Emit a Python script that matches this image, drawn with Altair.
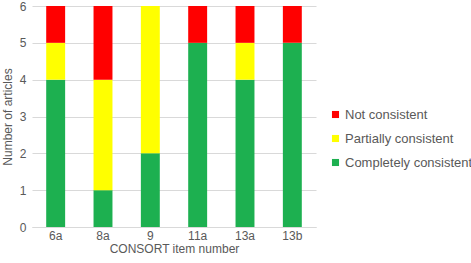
import altair as alt
import pandas as pd

items = ["6a", "8a", "9", "11a", "13a", "13b"]
completely = [4, 1, 2, 5, 4, 5]
partially = [1, 3, 4, 0, 1, 0]
not_cons = [1, 2, 0, 1, 1, 1]

series = ["Not consistent", "Partially consistent", "Completely consistent"]
colors = ["#FF0000", "#FFFF00", "#1DB050"]
stack_rank = {"Completely consistent": 0, "Partially consistent": 1, "Not consistent": 2}

rows = []
for i, item in enumerate(items):
    for name, vals in [("Completely consistent", completely),
                       ("Partially consistent", partially),
                       ("Not consistent", not_cons)]:
        rows.append({"item": item, "series": name, "value": vals[i], "rank": stack_rank[name]})
df = pd.DataFrame(rows)

font = "Liberation Sans"
gray = "#595959"

chart = alt.Chart(df).mark_bar().encode(
    x=alt.X("item:N", sort=items, title="CONSORT item number",
            scale=alt.Scale(paddingInner=0.6, paddingOuter=0.3),
            axis=alt.Axis(labelAngle=0, domain=True, domainColor="#D9D9D9", ticks=False,
                          labelPadding=3, titlePadding=2)),
    y=alt.Y("value:Q", title="Number of articles",
            scale=alt.Scale(domain=[0, 6]),
            axis=alt.Axis(values=[0, 1, 2, 3, 4, 5, 6], domain=False, ticks=False,
                          gridColor="#D9D9D9", labelPadding=6, titlePadding=5)),
    color=alt.Color("series:N", scale=alt.Scale(domain=series, range=colors),
                    legend=alt.Legend(title=None, orient="none", legendX=297, legendY=102,
                                      symbolType="square", symbolSize=50, symbolStrokeWidth=0,
                                      rowPadding=10, labelFontSize=13, labelColor=gray,
                                      labelFont=font, labelOffset=3)),
    order=alt.Order("rank:Q", sort="ascending"),
).properties(
    width=284, height=221,
    autosize=alt.AutoSizeParams(type="none"),
    padding={"left": 32, "top": 6, "right": 155, "bottom": 36},
    background="white",
).configure_view(stroke=None).configure_axis(
    labelFont=font, titleFont=font, labelColor=gray, titleColor=gray,
    labelFontSize=12, titleFontSize=12, titleFontWeight="normal",
)

chart.save("out.html", embed_options={"renderer": "svg", "actions": False})
